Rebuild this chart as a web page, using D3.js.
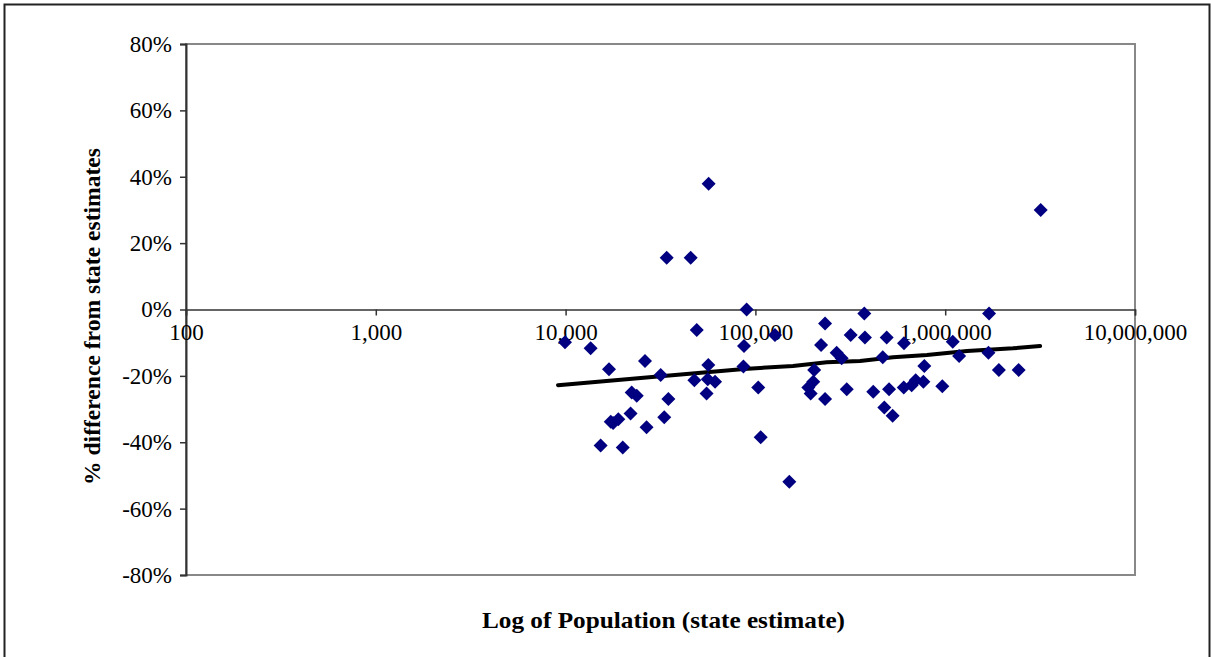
<!doctype html>
<html>
<head>
<meta charset="utf-8">
<title>Population vs state estimates</title>
<script src="https://d3js.org/d3.v7.min.js"></script>
<style>
  body { margin: 0; background: #fff; }
  text { font-family: "Liberation Serif", "Times New Roman", serif; fill: #000; }
  .axis-title { font-weight: bold; }
</style>
</head>
<body>
<div id="chart"></div>
<script>
// population (state estimate) and % difference for each county
var population = [9930, 13550, 16930, 26200, 31700, 34100, 45600, 56700, 49100, 47700,
  56500, 56100, 61300, 55300, 89900, 87100, 86500, 103500, 106600, 126800,
  150900, 22300, 23700, 34800, 22000, 17300, 18950, 17800, 33100, 26700,
  15300, 20000, 232800, 221800, 268000, 284800, 204000, 190000, 201800, 195500,
  232800, 302900, 317800, 374800, 377800, 417800, 491700, 468800, 506000, 477700,
  528300, 606500, 605000, 665700, 699300, 767400, 776400, 965800, 1096000, 1184000,
  3184000, 1702000, 1690000, 1918000, 2438000];
var pctDiff = [-9.9, -11.7, -18.0, -15.5, -19.7, 15.6, 15.6, 37.9, -6.2, -21.3,
  -16.7, -21.0, -21.8, -25.3, 0.0, -11.0, -17.2, -23.5, -38.5, -7.7,
  -51.9, -25.0, -26.0, -27.0, -31.3, -33.8, -33.1, -34.2, -32.5, -35.5,
  -41.0, -41.6, -4.2, -10.7, -13.0, -14.7, -18.2, -23.5, -21.8, -25.3,
  -27.0, -24.0, -7.7, -1.2, -8.4, -24.8, -8.4, -14.4, -24.0, -29.5,
  -32.0, -10.2, -23.5, -22.8, -21.3, -21.8, -17.0, -23.1, -9.7, -14.0,
  30.0, -1.2, -13.0, -18.2, -18.2];

// fitted trend line
var trendPop = [9120, 31700, 87100, 157800, 237700, 355900, 530900, 801000, 1302000, 2275000, 3162000];
var trendPct = [-22.8, -20.1, -17.9, -17.0, -15.9, -15.5, -14.4, -13.7, -12.5, -11.7, -11.0];

var xTicks = [100, 1000, 10000, 100000, 1000000, 10000000];
var yTicks = [80, 60, 40, 20, 0, -20, -40, -60, -80];

var W = 1211, H = 657;
var margin = {top: 44, right: 76, bottom: 82, left: 186};
var width = W - margin.left - margin.right,
    height = H - margin.top - margin.bottom;

var svg = d3.select("#chart").append("svg")
  .attr("width", W).attr("height", H);

// outer frame
svg.append("rect")
  .attr("x", 4.5).attr("y", 4.5).attr("width", 1205).attr("height", 660)
  .attr("fill", "none").attr("stroke", "#222").attr("stroke-width", 2);

var g = svg.append("g")
  .attr("transform", "translate(" + margin.left + "," + margin.top + ")");

var x = d3.scaleLog().domain([100, 10000000]).range([0, width]);
var y = d3.scaleLinear().domain([-80, 80]).range([height, 0]);

// plot area border
g.append("rect")
  .attr("x", 0).attr("y", 0).attr("width", width).attr("height", height)
  .attr("fill", "none").attr("stroke", "#888").attr("stroke-width", 2);

// y axis
var yAxis = g.append("g")
  .call(d3.axisLeft(y).tickValues(yTicks).tickSize(6).tickFormat(function(d){ return d + "%"; }));
yAxis.select(".domain").attr("stroke", "#333").attr("stroke-width", 2);
yAxis.selectAll("line").attr("stroke", "#333").attr("stroke-width", 1.5);
yAxis.selectAll("text")
  .attr("x", -14)
  .style("font-family", "Liberation Serif, serif")
  .style("font-size", "23px");

// x axis along 0%
var xAxis = g.append("g")
  .attr("transform", "translate(0," + y(0) + ")")
  .call(d3.axisBottom(x).tickValues(xTicks).tickSize(6).tickFormat(d3.format(",")));
xAxis.select(".domain").attr("stroke", "#333").attr("stroke-width", 1.5);
xAxis.selectAll("line").attr("stroke", "#333").attr("stroke-width", 1.5);
xAxis.selectAll("text")
  .attr("y", 14)
  .style("font-family", "Liberation Serif, serif")
  .style("font-size", "23px");

// trend line
var trend = trendPop.map(function(p, i){ return [p, trendPct[i]]; });
g.append("path")
  .datum(trend)
  .attr("fill", "none")
  .attr("stroke", "#000")
  .attr("stroke-width", 4)
  .attr("stroke-linecap", "round")
  .attr("d", d3.line().x(function(d){ return x(d[0]); }).y(function(d){ return y(d[1]); }));

// points
var pts = population.map(function(p, i){ return [p, pctDiff[i]]; });
g.append("g")
  .selectAll("path")
  .data(pts)
  .enter()
  .append("path")
    .attr("d", "M0,-7L7,0L0,7L-7,0Z")
    .attr("transform", function(d){ return "translate(" + x(d[0]) + "," + y(d[1]) + ")"; })
    .attr("fill", "#000080");

// axis titles
svg.append("text")
  .attr("class", "axis-title")
  .attr("x", margin.left + width / 2 + 3)
  .attr("y", 628)
  .attr("text-anchor", "middle")
  .attr("textLength", 363)
  .attr("lengthAdjust", "spacingAndGlyphs")
  .style("font-size", "23px")
  .text("Log of Population (state estimate)");

svg.append("text")
  .attr("class", "axis-title")
  .attr("transform", "translate(100," + (margin.top + height / 2 + 7) + ") rotate(-90)")
  .attr("text-anchor", "middle")
  .attr("textLength", 337)
  .attr("lengthAdjust", "spacingAndGlyphs")
  .style("font-size", "23px")
  .text("% difference from state estimates");
</script>
</body>
</html>
